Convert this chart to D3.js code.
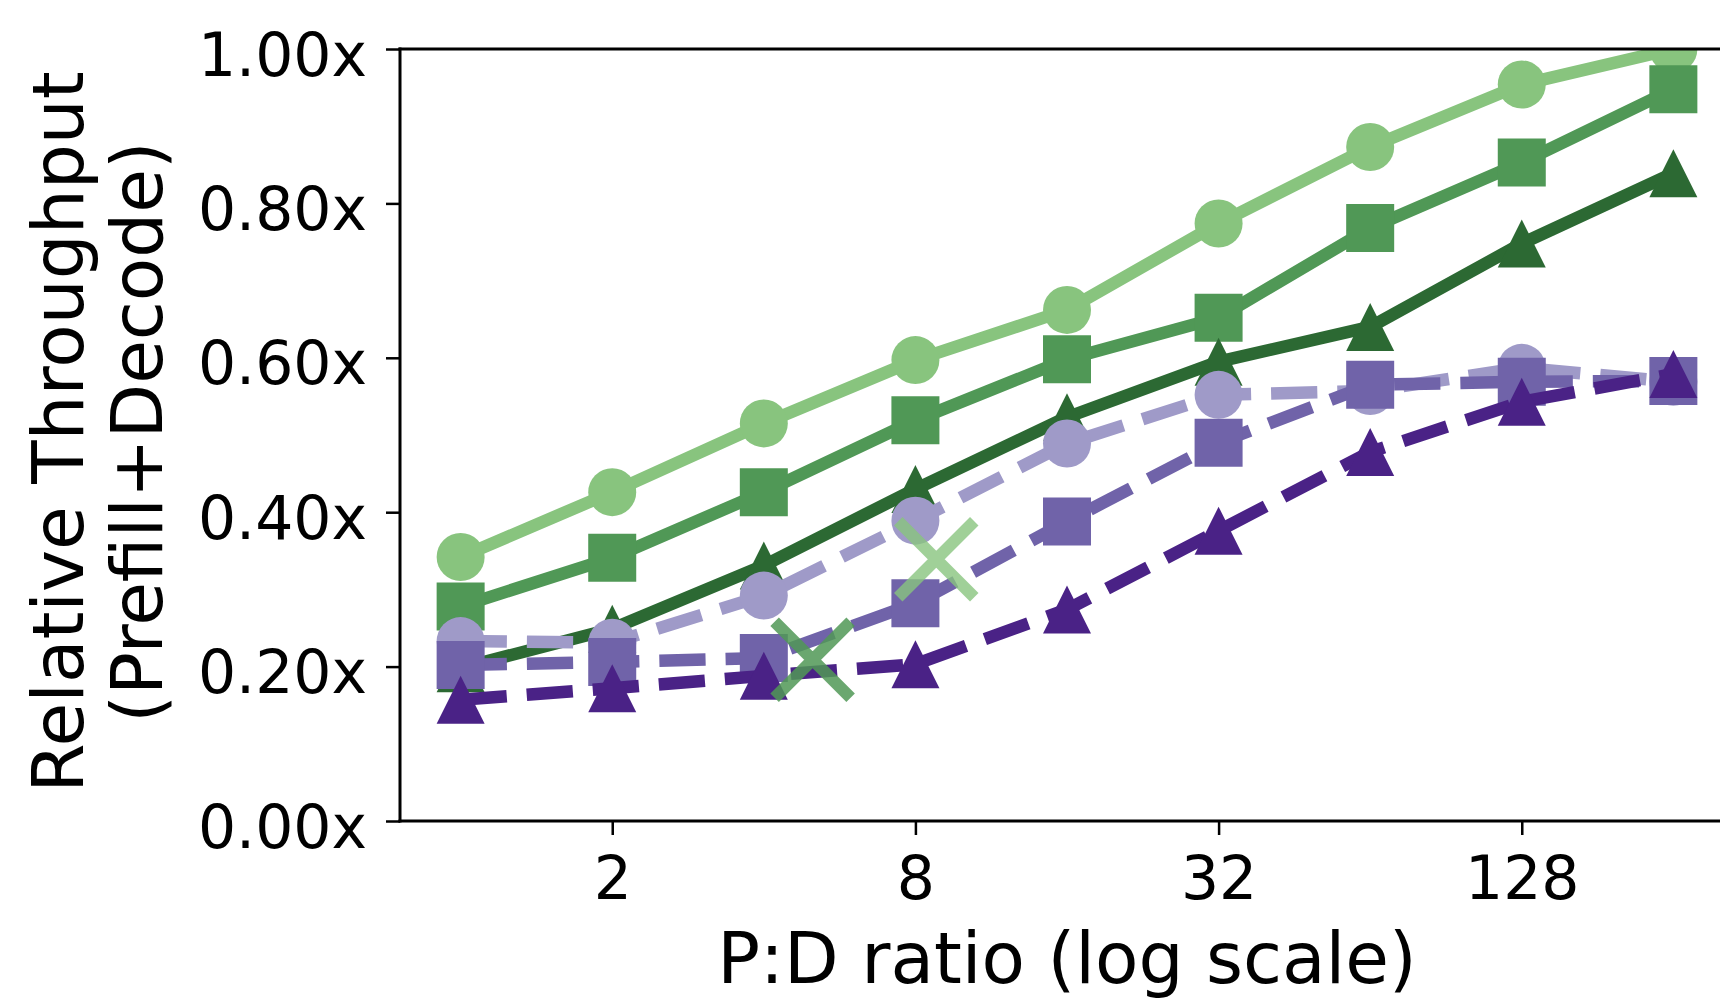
<!DOCTYPE html>
<html><head><meta charset="utf-8">
<script src="https://cdn.jsdelivr.net/npm/d3@7"></script>
<style>html,body{margin:0;padding:0;background:#fff;overflow:hidden;} svg{display:block;font-family:"DejaVu Sans",sans-serif;}</style>
</head><body><svg id="chart" width="1720" height="999"></svg>
<script>
// ---- data ----
const ratios = [1, 2, 4, 8, 16, 32, 64, 128, 256];
const xTickValues = [2, 8, 32, 128];
const yTickValues = [0, 0.2, 0.4, 0.6, 0.8, 1.0];
const xLabel = "P:D ratio (log scale)";
const yLabelLines = ["Relative Throughput", "(Prefill+Decode)"];

const greenLight  = [0.342, 0.426, 0.515, 0.597, 0.662, 0.774, 0.873, 0.954, 1.000];
const greenMid    = [0.278, 0.341, 0.426, 0.519, 0.598, 0.652, 0.768, 0.853, 0.948];
const greenDark   = [0.198, 0.249, 0.331, 0.430, 0.523, 0.595, 0.640, 0.748, 0.839];
const purpleLight = [0.233, 0.231, 0.292, 0.389, 0.489, 0.552, 0.557, 0.587, 0.569];
const purpleMid   = [0.202, 0.206, 0.211, 0.282, 0.388, 0.490, 0.565, 0.569, 0.570];
const purpleDark  = [0.157, 0.172, 0.188, 0.203, 0.274, 0.376, 0.478, 0.543, 0.579];

const crossX = [5.0, 8.8];
const crossY = [0.209, 0.339];
const crossColorKey = ["mid", "light"];

// ---- styles ----
const colors = {
  greenLight: "#88c47e", greenMid: "#509856", greenDark: "#2c6933",
  purpleLight: "#9f9ac8", purpleMid: "#7063a9", purpleDark: "#4a2286"
};
const series = [
  {values: greenLight,  color: colors.greenLight,  marker: "circle",   dashed: false},
  {values: greenMid,    color: colors.greenMid,    marker: "square",   dashed: false},
  {values: greenDark,   color: colors.greenDark,   marker: "triangle", dashed: false},
  {values: purpleLight, color: colors.purpleLight, marker: "circle",   dashed: true},
  {values: purpleMid,   color: colors.purpleMid,   marker: "square",   dashed: true},
  {values: purpleDark,  color: colors.purpleDark,  marker: "triangle", dashed: true}
];

const L = 400, R = 1734, T = 49, B = 821;
const LW = 12.5, MS = 48;

const svg = d3.select("#chart");
const x = d3.scaleLog().base(2).domain([Math.pow(2, -0.4), Math.pow(2, 8.4)]).range([L, R]);
const y = d3.scaleLinear().domain([0, 1]).range([B, T]);

svg.append("defs").append("clipPath").attr("id", "plotclip")
  .append("rect").attr("x", L).attr("y", T).attr("width", R - L).attr("height", B - T);

const plot = svg.append("g").attr("clip-path", "url(#plotclip)");

const line = d3.line().x((d, i) => x(ratios[i])).y(d => y(d));

function markerPath(type) {
  const h = MS / 2;
  if (type === "circle") return d3.symbol().type(d3.symbolCircle).size(Math.PI * h * h)();
  if (type === "square") return `M${-h},${-h}H${h}V${h}H${-h}Z`;
  return `M0,${-h}L${h},${h}L${-h},${h}Z`;
}

series.forEach(s => {
  const g = plot.append("g");
  g.append("path").attr("d", line(s.values))
    .attr("fill", "none").attr("stroke", s.color).attr("stroke-width", LW)
    .attr("stroke-linejoin", "round").attr("stroke-linecap", "butt")
    .attr("stroke-dasharray", s.dashed ? `${3.7 * LW},${1.6 * LW}` : null);
  g.selectAll("path.m").data(s.values).enter().append("path").attr("class", "m")
    .attr("d", markerPath(s.marker))
    .attr("transform", (d, i) => `translate(${x(ratios[i])},${y(d)})`)
    .attr("fill", s.color);
});

// cross markers
const CS = 38;
crossX.forEach((cx, i) => {
  const px = x(cx), py = y(crossY[i]);
  const col = crossColorKey[i] === "light" ? colors.greenLight : colors.greenMid;
  plot.append("path")
    .attr("d", `M${px - CS},${py - CS}L${px + CS},${py + CS}M${px - CS},${py + CS}L${px + CS},${py - CS}`)
    .attr("stroke", col).attr("stroke-width", 12).attr("fill", "none")
    .attr("opacity", crossColorKey[i] === "light" ? 0.8 : 0.85);
});

// spines
const spineW = 3;
svg.append("line").attr("x1", L).attr("x2", R).attr("y1", T).attr("y2", T).attr("stroke", "#000").attr("stroke-width", spineW).attr("stroke-linecap", "square");
svg.append("line").attr("x1", L).attr("x2", R).attr("y1", B).attr("y2", B).attr("stroke", "#000").attr("stroke-width", spineW).attr("stroke-linecap", "square");
svg.append("line").attr("x1", L).attr("x2", L).attr("y1", T).attr("y2", B).attr("stroke", "#000").attr("stroke-width", spineW).attr("stroke-linecap", "square");

// axes
const xAxis = d3.axisBottom(x).tickValues(xTickValues).tickFormat(d3.format("d")).tickSize(14).tickPadding(8);
const gx = svg.append("g").attr("transform", `translate(0,${B})`).call(xAxis);
gx.select(".domain").remove();
gx.selectAll(".tick line").attr("stroke", "#000").attr("stroke-width", 2.5);
gx.selectAll(".tick text").attr("font-size", 60).attr("fill", "#000")
  .attr("font-family", "DejaVu Sans").attr("dy", null).attr("y", 78);

const yAxis = d3.axisLeft(y).tickValues(yTickValues).tickFormat(d => d3.format(".2f")(d) + "x").tickSize(14).tickPadding(18);
const gy = svg.append("g").attr("transform", `translate(${L},0)`).call(yAxis);
gy.select(".domain").remove();
gy.selectAll(".tick line").attr("stroke", "#000").attr("stroke-width", 2.5);
gy.selectAll(".tick text").attr("font-size", 60).attr("fill", "#000")
  .attr("font-family", "DejaVu Sans").attr("dy", null).attr("y", 26).attr("x", -33);

// labels
svg.append("text").attr("x", (L + R) / 2).attr("y", 983).attr("text-anchor", "middle")
  .attr("font-size", 71).attr("fill", "#000").text(xLabel);
const labelBaselines = [83, 162];
yLabelLines.forEach((t, i) => {
  svg.append("text").attr("transform", `translate(${labelBaselines[i]},432) rotate(-90)`)
    .attr("text-anchor", "middle").attr("font-size", 71).attr("fill", "#000").text(t);
});
</script></body></html>
